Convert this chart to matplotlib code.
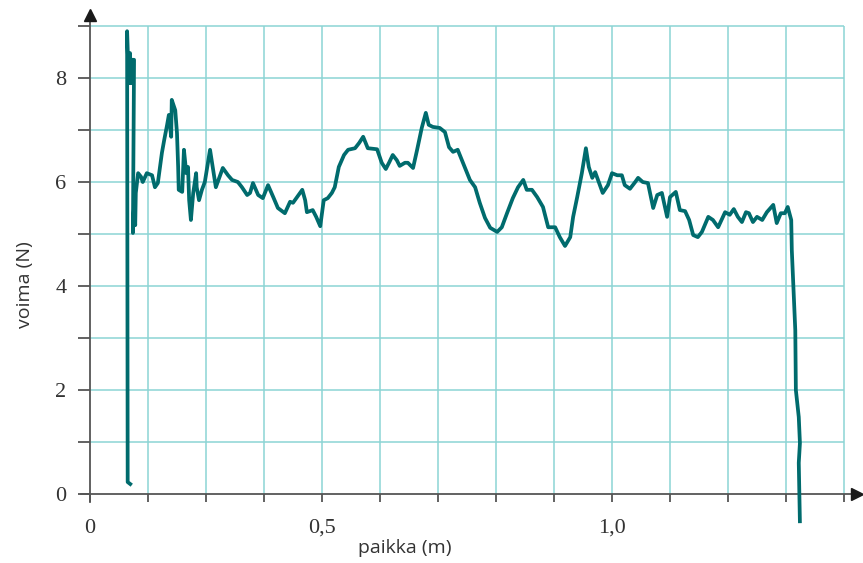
import numpy as np
import matplotlib
matplotlib.use("Agg")
import matplotlib.pyplot as plt

# position (m) and force (N)
paikka = [0.072, 0.065, 0.064, 0.067, 0.069, 0.071, 0.072, 0.076, 0.074, 0.076,
          0.078, 0.079, 0.083, 0.088, 0.091, 0.098, 0.107, 0.112, 0.117, 0.124,
          0.128, 0.133, 0.136, 0.140, 0.141, 0.147, 0.150, 0.152, 0.153, 0.159,
          0.162, 0.166, 0.169, 0.171, 0.174, 0.178, 0.183, 0.184, 0.188, 0.193,
          0.198, 0.207, 0.217, 0.229, 0.238, 0.245, 0.255, 0.262, 0.271, 0.276,
          0.281, 0.290, 0.298, 0.307, 0.316, 0.324, 0.336, 0.345, 0.350, 0.357,
          0.366, 0.371, 0.374, 0.384, 0.390, 0.397, 0.403, 0.410, 0.417, 0.422,
          0.429, 0.438, 0.445, 0.457, 0.464, 0.471, 0.479, 0.495, 0.503, 0.510,
          0.516, 0.522, 0.529, 0.534, 0.543, 0.548, 0.557, 0.564, 0.572, 0.579,
          0.584, 0.591, 0.603, 0.612, 0.619, 0.626, 0.634, 0.643, 0.655, 0.664,
          0.672, 0.681, 0.690, 0.702, 0.710, 0.719, 0.729, 0.738, 0.747, 0.753,
          0.762, 0.771, 0.781, 0.790, 0.802, 0.810, 0.819, 0.828, 0.833, 0.840,
          0.848, 0.855, 0.860, 0.866, 0.871, 0.879, 0.884, 0.893, 0.900, 0.909,
          0.917, 0.922, 0.931, 0.940, 0.945, 0.953, 0.962, 0.971, 0.978, 0.986,
          0.995, 1.000, 1.010, 1.017, 1.026, 1.033, 1.040, 1.048, 1.055, 1.066,
          1.074, 1.083, 1.095, 1.103, 1.110, 1.117, 1.124, 1.131, 1.136, 1.143,
          1.150, 1.159, 1.167, 1.178, 1.184, 1.191, 1.198, 1.203, 1.209, 1.210,
          1.212, 1.216, 1.217, 1.222, 1.224, 1.222, 1.224]
voima = [0.17, 0.23, 8.90, 7.90, 8.48, 7.90, 8.35, 8.35, 5.02, 5.56,
         5.17, 5.79, 6.17, 6.10, 6.00, 6.17, 6.13, 5.90, 5.98, 6.56,
         6.81, 7.10, 7.29, 6.87, 7.58, 7.38, 6.94, 6.29, 5.85, 5.81,
         6.62, 6.17, 6.29, 5.65, 5.27, 5.79, 6.17, 5.90, 5.65, 5.85,
         6.00, 6.62, 5.90, 6.27, 6.13, 6.04, 6.00, 5.90, 5.75, 5.79,
         5.98, 5.75, 5.69, 5.94, 5.71, 5.50, 5.40, 5.62, 5.60, 5.71,
         5.85, 5.65, 5.42, 5.46, 5.33, 5.15, 5.65, 5.69, 5.79, 5.90,
         6.29, 6.52, 6.62, 6.65, 6.75, 6.87, 6.65, 6.63, 6.37, 6.25,
         6.38, 6.52, 6.42, 6.31, 6.37, 6.37, 6.27, 6.62, 7.04, 7.33,
         7.10, 7.06, 7.04, 6.96, 6.67, 6.58, 6.62, 6.37, 6.04, 5.90,
         5.60, 5.31, 5.12, 5.04, 5.13, 5.40, 5.69, 5.90, 6.04, 5.85,
         5.85, 5.71, 5.52, 5.13, 5.13, 4.94, 4.77, 4.94, 5.33, 5.71,
         6.17, 6.65, 6.29, 6.08, 6.19, 5.94, 5.79, 5.94, 6.17, 6.13,
         6.13, 5.94, 5.87, 6.00, 6.08, 6.00, 5.98, 5.50, 5.75, 5.79,
         5.33, 5.71, 5.81, 5.46, 5.44, 5.27, 4.98, 4.94, 5.04, 5.33,
         5.27, 5.13, 5.42, 5.37, 5.48, 5.33, 5.23, 5.42, 5.40, 5.23,
         5.33, 5.27, 5.42, 5.56, 5.21, 5.40, 5.40, 5.52, 5.27, 4.69,
         4.17, 3.15, 2.00, 1.48, 0.98, 0.60, -0.56]

x_ticks = np.arange(0, 14) / 10
y_ticks = np.arange(0, 10)
x_labels = {0: "0", 4: "0,5", 9: "1,0"}
y_labels = {0: "0", 2: "2", 4: "4", 6: "6", 8: "8"}

grid_col = "#8cd4d4"
line_col = "#006b6d"
axis_col = "#555555"
text_col = "#333333"

fig = plt.figure(figsize=(8.63, 5.63), dpi=100)
ax = fig.add_axes([0.0841, 0.0671, 0.9154, 0.9144])
ax.set_xlim(-0.03, 1.332)
ax.set_ylim(-0.6, 9.3)

# grid only inside the first quadrant
ax.vlines(x_ticks[1:], 0, 9, color=grid_col, lw=1.1, zorder=1)
ax.hlines(y_ticks[1:], 0, 1.3, color=grid_col, lw=1.1, zorder=1)

ax.plot(paikka, voima, color=line_col, lw=2.7, solid_joinstyle="round",
        solid_capstyle="butt", zorder=3, clip_on=False)

for s in ["top", "right"]:
    ax.spines[s].set_visible(False)
ax.spines["left"].set_position(("data", 0))
ax.spines["bottom"].set_position(("data", 0))
ax.spines["left"].set_bounds(-0.15, 9.2)
ax.spines["bottom"].set_bounds(-0.016, 1.32)
for s in ["left", "bottom"]:
    ax.spines[s].set_color(axis_col)
    ax.spines[s].set_linewidth(1.3)
    ax.spines[s].set_zorder(2)

# arrow heads
ax.plot([0], [9.22], marker="^", ms=8, color="#1a1a1a", clip_on=False, zorder=4)
ax.plot([1.322], [0], marker=">", ms=8, color="#1a1a1a", clip_on=False, zorder=4)

ax.set_xticks(x_ticks)
ax.set_xticklabels([x_labels.get(i, "") for i in range(len(x_ticks))])
ax.set_yticks(y_ticks)
ax.set_yticklabels([y_labels.get(i, "") for i in range(len(y_ticks))])
ax.tick_params(axis="x", direction="out", length=6, width=1.3, color=axis_col,
               pad=12, labelcolor=text_col)
ax.tick_params(axis="y", direction="out", length=9, width=1.3, color=axis_col,
               pad=8, labelcolor=text_col)
for lab in ax.get_xticklabels() + ax.get_yticklabels():
    lab.set_fontfamily("Liberation Serif")
    lab.set_fontsize(16)

fig.text(405 / 863, 1 - 548 / 563, "paikka (m)", ha="center", va="center",
         fontsize=14, family="Open Sans", color=text_col)
fig.text(25 / 863, 1 - 285 / 563, "voima (N)", ha="center", va="center",
         rotation=90, fontsize=14, family="Open Sans", color=text_col)

fig.savefig("out.png", dpi=100)
